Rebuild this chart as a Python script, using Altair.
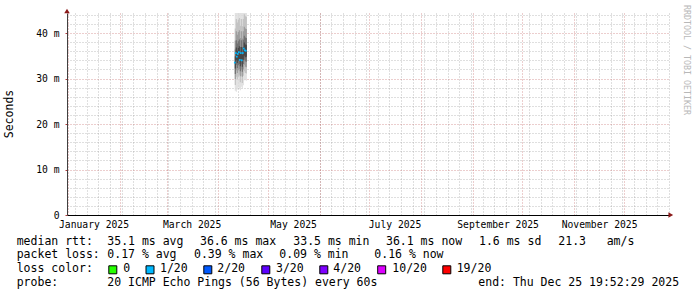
import altair as alt
import pandas as pd

# ---------------- data ----------------
col_start = ["2025-04-11T00:00:00Z", "2025-04-11T14:24:00Z", "2025-04-12T04:48:00Z", "2025-04-12T19:12:00Z",
             "2025-04-13T09:36:00Z", "2025-04-14T00:00:00Z", "2025-04-14T14:24:00Z", "2025-04-15T04:48:00Z",
             "2025-04-15T19:12:00Z", "2025-04-16T09:36:00Z", "2025-04-17T00:00:00Z", "2025-04-17T14:24:00Z"]
col_end = ["2025-04-11T14:24:00Z", "2025-04-12T04:48:00Z", "2025-04-12T19:12:00Z", "2025-04-13T09:36:00Z",
           "2025-04-14T00:00:00Z", "2025-04-14T14:24:00Z", "2025-04-15T04:48:00Z", "2025-04-15T19:12:00Z",
           "2025-04-16T09:36:00Z", "2025-04-17T00:00:00Z", "2025-04-17T14:24:00Z", "2025-04-18T04:48:00Z"]
median_ms = [33.5, 35.6, 34.8, 35.4, 35.8, 34.1, 35.6, 34.0, 35.6, 36.6, 36.2, 36.1]

# smoke bands (ms): outermost first
smoke_lo_0 = [27.3, 27.1, 27.6, 28.0, 27.9, 27.4, 28.2, 27.8, 28.5, 29.6, 29.7, 29.5]
smoke_hi_0 = [48.0, 48.0, 48.0, 48.0, 48.0, 48.0, 48.0, 48.0, 48.0, 48.0, 48.0, 48.0]
smoke_lo_1 = [28.6, 30.4, 29.8, 30.4, 30.8, 29.2, 30.6, 29.0, 30.6, 31.6, 31.2, 31.1]
smoke_hi_1 = [41.0, 43.1, 42.3, 42.9, 43.3, 41.6, 43.1, 41.5, 43.1, 44.1, 43.7, 43.6]
smoke_lo_2 = [29.9, 31.8, 31.2, 31.8, 32.1, 30.5, 32.0, 30.4, 32.0, 33.0, 32.6, 32.5]
smoke_hi_2 = [38.3, 40.4, 39.6, 40.2, 40.6, 38.9, 40.4, 38.8, 40.4, 41.4, 41.0, 40.9]
smoke_lo_3 = [31.0, 33.0, 32.3, 32.9, 33.2, 31.6, 33.1, 31.5, 33.2, 34.1, 33.8, 33.7]
smoke_hi_3 = [36.4, 38.4, 37.7, 38.2, 38.6, 36.9, 38.4, 36.8, 38.5, 39.4, 39.0, 38.9]
smoke_lo_4 = [32.2, 34.0, 33.4, 33.9, 34.3, 32.7, 34.2, 32.6, 34.1, 35.0, 34.7, 34.8]
smoke_hi_4 = [34.9, 36.8, 36.1, 36.7, 37.1, 35.5, 36.9, 35.3, 36.9, 37.9, 37.5, 37.4]

y_major_ticks = [0, 10, 20, 30, 40]
y_minor_ticks = [2, 4, 6, 8, 12, 14, 16, 18, 22, 24, 26, 28, 32, 34, 36, 38, 42, 44]

y_title = "Seconds"
watermark = "RRDTOOL / TOBI OETIKER"
rtt_label = "median rtt:"
rtt_stats = ["35.1 ms avg", "36.6 ms max", "33.5 ms min", "36.1 ms now", "1.6 ms sd", "21.3", "am/s"]
loss_label = "packet loss:"
loss_stats = ["0.17 % avg", "0.39 % max", "0.09 % min", "0.16 % now"]
color_label = "loss color:"
loss_levels = ["0", "1/20", "2/20", "3/20", "4/20", "10/20", "19/20"]
probe_label = "probe:"
probe_text = "20 ICMP Echo Pings (56 Bytes) every 60s"
end_text = "end: Thu Dec 25 19:52:29 2025"

# ---------------- style / layout ----------------
loss_colors = ["#26ff00", "#00b8ff", "#0059ff", "#5e00ff", "#7e00ff", "#dd00ff", "#ff0000"]
band_colors = ["#dcdcdc", "#bdbdbd", "#959595", "#6a6a6a", "#404040"]
MONO = "DejaVu Sans Mono"
W, H = 602, 202
OX, OY = 67, 13          # plot origin inside the 697x297 page
LEG_FS = 11.5
row_y = [241.7, 255.0, 269.0, 282.7]
label_x = 16.7
rtt_x = [107.3, 200.0, 293.3, 386.0, 479.0, 558.3, 606.7]
loss_x = [107.3, 194.0, 279.3, 374.3]
swatch_x = [112.8, 150.0, 207.8, 265.8, 323.8, 381.7, 446.8]
swatch_text_x = [123.3, 160.0, 217.3, 276.0, 333.3, 392.3, 456.7]
probe_x = 107.3
end_x = 478.3

# ---------------- frames ----------------
rows = []
bands = [(smoke_lo_0, smoke_hi_0), (smoke_lo_1, smoke_hi_1), (smoke_lo_2, smoke_hi_2),
         (smoke_lo_3, smoke_hi_3), (smoke_lo_4, smoke_hi_4)]
for lvl, (lo, hi) in enumerate(bands):
    for j in range(len(col_start)):
        rows.append({"start": col_start[j], "end": col_end[j], "lo": lo[j], "hi": hi[j], "level": lvl})
smoke_df = pd.DataFrame(rows)
med_df = pd.DataFrame({"start": col_start, "median": median_ms})

xscale = alt.Scale(type="utc", nice=False, domain=[
    alt.DateTime(year=2024, month=12, date=31, hours=2, minutes=24, utc=True),
    alt.DateTime(year=2025, month=12, date=28, hours=2, minutes=24, utc=True)])
yscale = alt.Scale(domain=[0, 44.4], nice=False, zero=True)

MINOR_C, MAJOR_C = "#8c8c8c", "#b43c3c"

smoke = alt.Chart(smoke_df).mark_rect(clip=True).encode(
    x=alt.X("start:T", scale=xscale, axis=alt.Axis(
        orient="bottom", grid=True, gridColor=MINOR_C, gridOpacity=0.55, gridDash=[1, 2],
        tickCount={"interval": "week", "step": 1}, labels=False, ticks=False, domain=False, title=None)),
    x2="end:T",
    y=alt.Y("lo:Q", scale=yscale, axis=alt.Axis(
        orient="left", grid=True, values=y_minor_ticks, gridColor=MINOR_C, gridOpacity=0.55,
        gridDash=[1, 2], labels=False, ticks=False, domain=False, title=None)),
    y2="hi:Q",
    color=alt.Color("level:O", scale=alt.Scale(domain=[0, 1, 2, 3, 4], range=band_colors), legend=None),
)

median = alt.Chart(med_df).mark_square(size=3, color=loss_colors[1], opacity=1).encode(
    x=alt.X("start:T", scale=xscale, axis=alt.Axis(
        orient="bottom", grid=True, gridColor=MAJOR_C, gridOpacity=0.5, gridDash=[1, 2],
        tickCount={"interval": "month", "step": 1}, labels=False, ticks=False,
        domain=True, domainColor="#000000", domainWidth=1, title=None)),
    y=alt.Y("median:Q", scale=yscale, axis=alt.Axis(
        orient="left", grid=True, values=y_major_ticks, gridColor=MAJOR_C, gridOpacity=0.5,
        gridDash=[1, 2], ticks=True, tickSize=2, tickColor=MAJOR_C, labelPadding=6,
        labelExpr="datum.value == 0 ? '0\u00a0\u00a0' : format(datum.value, 'd') + ' m'",
        labelFont=MONO, labelFontSize=9.7, labelColor="#000000", domain=True,
        domainColor="#404040", domainWidth=1, title=None)),
)

xlabels = alt.Chart(med_df).mark_point(opacity=0).encode(
    x=alt.X("start:T", scale=xscale, axis=alt.Axis(
        orient="bottom", grid=False, ticks=False, domain=False, title=None,
        tickCount={"interval": "month", "step": 2}, labelOffset=25, labelFlush=False,
        labelOverlap=False, labelExpr="utcFormat(datum.value, '%B %Y')",
        labelFont=MONO, labelFontSize=9.7, labelColor="#000000", labelPadding=4)),
    y=alt.Y("median:Q", scale=yscale, axis=None),
)

one = pd.DataFrame({"k": [0]})


def txt(s, ax, ay, size=LEG_FS, align="left", color="#000000", angle=0):
    return alt.Chart(one).mark_text(
        font=MONO, fontSize=size, align=align, baseline="middle", color=color, angle=angle
    ).encode(x=alt.value(ax - OX), y=alt.value(ay - OY), text=alt.value(s))


layers = [smoke, median, xlabels]

# y title and watermark
layers.append(txt(y_title, 10, 114, size=11.5, align="center", angle=270))
layers.append(txt(watermark, 686, 60, size=8.3, align="center", color="#b8b8b8", angle=90))

# axis arrows
layers.append(alt.Chart(one).mark_point(shape="triangle-up", filled=True, size=30, color="#8b1a1a", opacity=1)
              .encode(x=alt.value(0), y=alt.value(-2)))
layers.append(alt.Chart(one).mark_point(shape="triangle-right", filled=True, size=30, color="#8b1a1a", opacity=1)
              .encode(x=alt.value(670.8 - OX), y=alt.value(215 - OY)))

# legend block
layers.append(txt(rtt_label, label_x, row_y[0]))
for s, px in zip(rtt_stats, rtt_x):
    layers.append(txt(s, px, row_y[0]))
layers.append(txt(loss_label, label_x, row_y[1]))
for s, px in zip(loss_stats, loss_x):
    layers.append(txt(s, px, row_y[1]))
layers.append(txt(color_label, label_x, row_y[2]))
for s, c, sx, tx in zip(loss_levels, loss_colors, swatch_x, swatch_text_x):
    layers.append(alt.Chart(one).mark_square(size=64, color=c, opacity=1, stroke="#000000", strokeWidth=1)
                  .encode(x=alt.value(sx - OX), y=alt.value(row_y[2] + 0.8 - OY)))
    layers.append(txt(s, tx, row_y[2]))
layers.append(txt(probe_label, label_x, row_y[3]))
layers.append(txt(probe_text, probe_x, row_y[3]))
layers.append(txt(end_text, end_x, row_y[3]))

chart = alt.layer(*layers).resolve_axis(x="independent", y="independent").properties(
    width=W, height=H,
    autosize=alt.AutoSizeParams(type="none"),
    padding={"left": OX, "top": OY, "right": 697 - OX - W, "bottom": 297 - OY - H},
    background="#ffffff",
).configure_view(stroke=None)

chart.save("out.html", embed_options={"renderer": "svg", "actions": False})
